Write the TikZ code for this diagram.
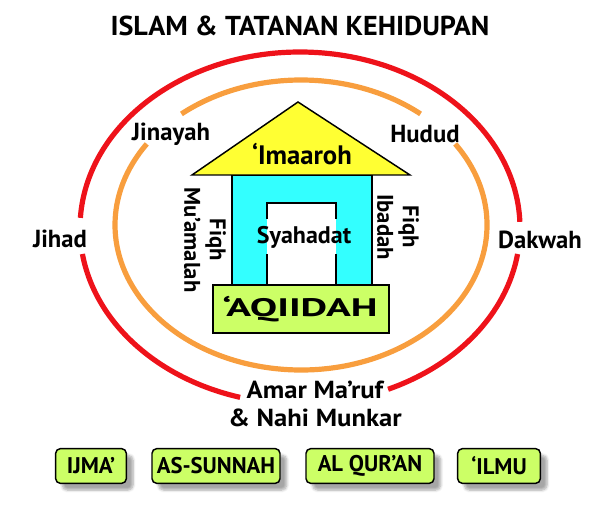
\documentclass[tikz,border=0pt]{standalone}
\usepackage{graphicx}
\usepackage{fontspec}
\setmainfont{PT Sans}
\usetikzlibrary{shadows.blur}

\definecolor{ringred}{RGB}{238,18,26}
\definecolor{ringorange}{RGB}{248,158,62}
\definecolor{roofyellow}{RGB}{255,255,51}
\definecolor{wallcyan}{RGB}{51,255,255}
\definecolor{basegreen}{RGB}{204,255,102}

\newcommand{\wide}[2]{\scalebox{#1}[1]{#2}}

\tikzset{every picture/.style={line width=0.75pt}}
\tikzset{
  txt/.style={inner sep=0pt, align=center, font=\fontsize{18.5}{20}\selectfont\bfseries},
  bigtxt/.style={txt, font=\fontsize{20}{22}\selectfont\bfseries},
  ring red/.style={draw=ringred, line width=3.9pt},
  ring orange/.style={draw=ringorange, line width=3.9pt},
  house line/.style={draw=black, line width=1.1pt},
  pillar/.style={rounded corners=3.5pt, draw=black, line width=1.1pt, fill=basegreen,
    minimum height=26pt, inner sep=0pt, font=\fontsize{17}{19}\selectfont\bfseries,
    blur shadow={shadow xshift=5pt, shadow yshift=-5pt, shadow opacity=35, shadow blur steps=6}}
}

\begin{document}
\begin{tikzpicture}[x=0.75pt,y=0.75pt,yscale=-1,xscale=1]
\useasboundingbox (0,0) rectangle (600,505);

% Title
\node[txt, font=\fontsize{20.5}{22}\selectfont\bfseries] (title) at (300,26) {\wide{1.03}{ISLAM \& TATANAN KEHIDUPAN}};

%Shape: Ellipse, outer ring (red)
\draw[ring red] (300,228) ++(8.5:220 and 176) arc[start angle=8.5, end angle=66.4, x radius=220, y radius=176];
\draw[ring red] (300,228) ++(105.8:220 and 176) arc[start angle=105.8, end angle=171.5, x radius=220, y radius=176];
\draw[ring red] (300,228) ++(183.3:220 and 176) arc[start angle=183.3, end angle=358, x radius=220, y radius=176];
%Shape: Ellipse, inner ring (orange)
\draw[ring orange] (301,225) ++(230:186 and 145) arc[start angle=230, end angle=310, x radius=186, y radius=145];
\draw[ring orange] (301,225) ++(-34:186 and 145) arc[start angle=-34, end angle=214, x radius=186, y radius=145];

%Shape: Walls
\draw[house line, fill=wallcyan] (232,175) rectangle (372,285);
%Shape: Door
\fill[white] (267,203) rectangle (336,285);
% Text Node
\node[txt, font=\fontsize{18}{20}\selectfont\bfseries] (syahadat) at (304,237) {Syahadat};
\draw[house line] (267,285) -- (267,254);
\draw[house line] (267,219) -- (267,203) -- (336,203) -- (336,219);
\draw[house line] (336,254) -- (336,285);
%Shape: Roof
\draw[house line, fill=roofyellow, line join=miter] (192,175) -- (298,102) -- (410,175) -- cycle;
% Text Node
\node[bigtxt] (imaaroh) at (302,154) {‘Imaaroh};
%Shape: Base
\draw[house line, fill=basegreen] (213,285) rectangle (389,333);
% Text Node
\node[bigtxt, font=\fontsize{19}{21}\selectfont\bfseries] (aqiidah) at (300,309) {\wide{1.62}{‘AQIIDAH}};

% Text Node
\node[txt, font=\fontsize{17}{19}\selectfont\bfseries, rotate=-90] (muamalah) at (205,240) {Fiqh\\Mu’amalah};
% Text Node
\node[txt, font=\fontsize{17}{19}\selectfont\bfseries, rotate=-90] (ibadah) at (398,227) {Fiqh\\Ibadah};

% Text Node
\node[txt] (jinayah) at (171,134) {Jinayah};
% Text Node
\node[txt] (hudud) at (425,134) {Hudud};
% Text Node
\node[txt] (jihad) at (60,239) {Jihad};
% Text Node
\node[txt] (dakwah) at (540,240) {Dakwah};
% Text Node
\node[txt, font=\fontsize{18.5}{21.5}\selectfont\bfseries] (amar) at (315,404) {\wide{1.08}{Amar Ma’ruf}\\\wide{1.08}{\& Nahi Munkar}};

% Pillars
\node[pillar, minimum width=53pt] (ijma) at (91,466) {IJMA’};
\node[pillar, minimum width=96pt] (sunnah) at (216,466) {AS-SUNNAH};
\node[pillar, minimum width=96pt] (quran) at (370,466) {AL QUR’AN};
\node[pillar, minimum width=62pt] (ilmu) at (499,466) {‘ILMU};

\end{tikzpicture}
\end{document}
